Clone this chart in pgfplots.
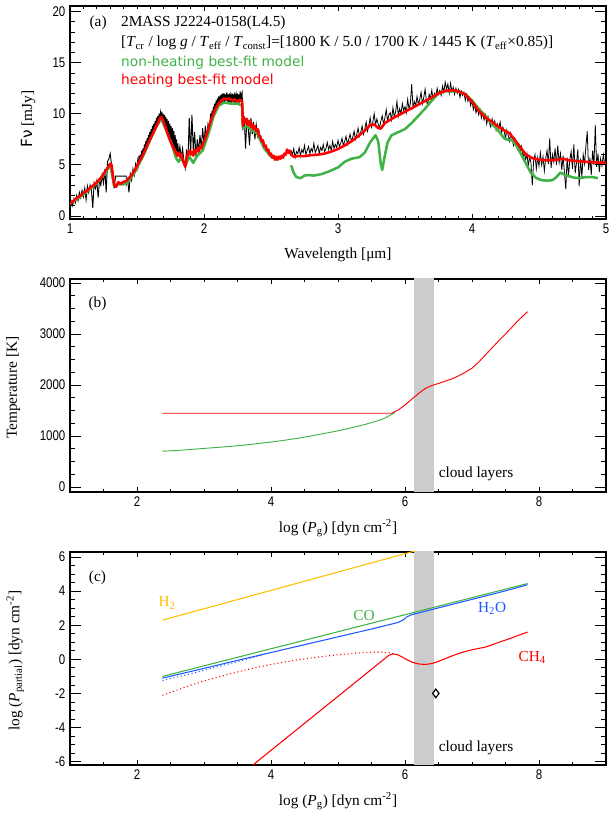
\documentclass[border=0pt]{standalone}
\usepackage{fontspec}
\setmainfont{Liberation Serif}
\newfontfamily\tickfont[FakeStretch=0.82]{Liberation Sans}
\newfontfamily\legfont{DejaVu Sans}
\usepackage{pgfplots}
\pgfplotsset{compat=1.18}

\definecolor{cgreen}{RGB}{64,178,72}
\definecolor{cblue}{RGB}{30,90,255}
\definecolor{cgold}{RGB}{255,190,0}
\newcommand{\lab}{\fontsize{11.5}{13}\selectfont}

\pgfplotsset{
  base/.style={scale only axis, width=402pt, height=159.75pt, anchor=south west,
    tick align=inside, axis line style={line width=0.8pt},
    every tick/.style={black, line width=0.6pt},
    major tick length=3.5pt, minor tick length=2pt},
  main/.style={base,
    ticklabel style={font=\tickfont\fontsize{10.5}{12}\selectfont},
    /pgf/number format/assume math mode=true,
    /pgf/number format/1000 sep={},
    label style={font=\lab},
    xlabel style={at={(axis description cs:0.5,-0.17)}, anchor=center}},
  yticks/.style={base, axis line style={draw=none}, xtick=\empty, yticklabels={},
    major tick length=8pt, minor tick length=4pt},
}

\begin{document}
\begin{tikzpicture}
\useasboundingbox (0,0) rectangle (456pt,610.5pt);

% ---------------- panel (a)
\begin{axis}[main, at={(52.5pt,446.25pt)},
  xmin=1, xmax=5, ymin=-0.3, ymax=20.55,
  xtick={1,2,3,4,5}, minor x tick num=9,
  ytick={0,5,10,15,20}, minor y tick num=4,
  xlabel={Wavelength [μm]},
  ylabel={{\legfont Fν} [mJy]},
  ylabel style={at={(axis description cs:-0.078,0.47)}, anchor=center}]
\addplot[black, line width=0.7pt] table {
x y
1.00 0.6
1.01 1.4
1.02 1.0
1.03 1.7
1.04 1.3
1.05 2.0
1.06 1.5
1.07 2.3
1.08 1.8
1.09 2.5
1.10 1.9
1.11 2.7
1.12 1.6
1.13 2.9
1.14 2.3
1.15 3.0
1.16 2.5
1.17 0.8
1.18 3.2
1.19 2.7
1.20 3.4
1.21 1.8
1.22 3.5
1.23 3.0
1.24 4.0
1.25 3.2
1.26 4.6
1.27 2.3
1.28 5.3
1.29 5.6
1.30 6.1
1.31 5.0
1.32 4.2
1.33 2.7
1.34 3.9
1.42 3.9
1.42 3.1
1.43 3.6
1.44 2.3
1.45 4.1
1.46 3.5
1.47 4.6
1.48 4.0
1.49 5.1
1.50 4.6
1.505 5.4
1.51 5.0
1.515 5.9
1.52 5.1
1.525 6.0
1.53 5.4
1.535 6.4
1.54 5.7
1.545 6.6
1.55 6.0
1.555 7.0
1.56 6.2
1.565 7.3
1.57 6.6
1.575 7.6
1.58 6.9
1.585 7.9
1.59 7.2
1.595 8.2
1.60 7.5
1.605 8.5
1.61 7.8
1.615 8.8
1.62 8.0
1.625 9.0
1.63 8.3
1.635 9.3
1.64 8.6
1.645 9.6
1.65 8.9
1.655 9.8
1.66 9.1
1.665 10.0
1.67 9.4
1.675 10.1
1.68 9.5
1.685 10.2
1.69 9.3
1.695 10.0
1.70 9.1
1.705 9.9
1.71 8.7
1.715 9.7
1.72 8.4
1.725 9.5
1.73 8.1
1.735 9.3
1.74 7.8
1.745 9.0
1.75 7.5
1.755 8.8
1.76 7.2
1.765 8.6
1.77 6.9
1.775 8.3
1.78 6.6
1.785 7.9
1.79 6.4
1.795 7.5
1.80 6.1
1.805 7.1
1.81 5.9
1.82 6.8
1.83 5.7
1.84 6.6
1.85 5.4
1.86 4.7
1.87 6.5
1.88 5.4
1.89 9.6
1.90 6.0
1.91 9.9
1.92 6.4
1.93 8.2
1.94 5.8
1.95 7.5
1.96 6.3
1.97 7.9
1.98 6.6
1.99 8.6
2.00 7.0
2.01 8.8
2.02 7.6
2.03 9.0
2.04 8.5
2.05 10.0
2.055 9.1
2.06 10.3
2.065 9.6
2.07 10.7
2.075 9.9
2.08 11.0
2.085 10.2
2.09 11.3
2.095 10.5
2.10 11.5
2.105 10.7
2.11 11.7
2.115 10.9
2.12 11.8
2.125 11.0
2.13 11.9
2.135 11.1
2.14 12.0
2.145 11.2
2.15 12.0
2.155 11.1
2.16 11.9
2.165 11.3
2.17 12.1
2.175 11.2
2.18 11.9
2.185 11.0
2.19 12.0
2.195 11.3
2.20 11.8
2.205 11.0
2.21 12.0
2.215 11.2
2.22 11.9
2.225 11.0
2.23 12.1
2.235 11.3
2.24 11.8
2.245 11.0
2.25 12.0
2.255 11.2
2.26 11.9
2.265 11.1
2.27 12.2
2.275 11.2
2.28 11.9
2.285 12.1
2.29 8.4
2.30 9.8
2.31 6.6
2.32 9.5
2.33 8.6
2.34 6.9
2.35 9.6
2.36 8.0
2.37 9.2
2.38 7.5
2.39 8.9
2.40 7.8
2.41 8.3
2.42 7.4
};
\addplot[black, line width=0.6pt] table {
x y
2.65 6.4
2.66 6.0
2.67 6.6
2.68 5.7
2.69 6.3
2.70 6.1
2.71 6.7
2.72 5.9
2.73 6.5
2.74 6.2
2.75 6.9
2.76 6.0
2.77 6.4
2.78 6.8
2.79 6.1
2.80 6.6
2.81 6.3
2.82 7.1
2.83 6.2
2.84 6.5
2.85 6.9
2.86 6.1
2.87 6.7
2.88 6.4
2.89 7.0
2.90 6.3
2.91 6.6
2.92 7.2
2.93 6.5
2.94 6.9
2.95 6.4
2.96 7.3
2.97 6.6
2.98 7.0
2.99 6.7
3.00 7.4
3.01 6.8
3.02 7.1
3.03 7.6
3.04 6.9
3.05 7.3
3.06 7.8
3.07 7.0
3.08 7.5
3.09 8.0
3.10 7.3
3.11 7.7
3.12 8.3
3.13 7.5
3.14 8.0
3.15 8.6
3.16 7.8
3.17 8.2
3.18 8.8
3.19 8.0
3.20 8.5
3.21 9.2
3.22 8.3
3.23 8.8
3.24 9.6
3.25 8.7
3.26 9.2
3.27 10.0
3.28 8.9
3.29 9.5
3.30 9.0
3.31 8.6
3.32 9.3
3.33 9.8
3.34 9.0
3.35 9.6
3.36 10.4
3.37 9.3
3.38 9.9
3.39 10.1
3.40 9.4
3.41 10.6
3.42 9.7
3.43 10.2
3.44 11.2
3.45 9.8
3.46 10.5
3.47 10.0
3.48 11.0
3.49 10.3
3.50 10.7
3.51 10.1
3.52 11.4
3.53 10.5
3.54 11.0
3.55 12.9
3.56 10.6
3.57 11.2
3.58 10.8
3.59 11.7
3.60 10.9
3.61 11.4
3.62 12.1
3.63 11.0
3.64 11.6
3.65 12.4
3.66 11.2
3.67 10.9
3.68 11.9
3.69 11.5
3.70 12.3
3.71 11.4
3.72 12.0
3.73 11.7
3.74 12.5
3.75 11.9
3.76 12.3
3.77 11.8
3.78 12.7
3.79 12.1
3.80 13.1
3.81 12.4
3.82 12.9
3.83 12.0
3.84 13.0
3.85 12.2
3.86 12.6
3.87 11.9
3.88 12.5
3.89 12.0
3.90 12.4
3.91 11.6
3.92 12.2
3.93 11.8
3.94 12.1
3.95 11.3
3.96 11.9
3.97 11.2
3.98 11.6
3.99 10.8
4.00 11.3
4.01 10.4
4.02 10.9
4.03 10.1
4.04 10.6
4.05 9.9
4.06 10.4
4.07 9.6
4.08 10.1
4.09 9.4
4.10 9.9
4.11 9.0
4.12 9.7
4.13 9.1
4.14 8.7
4.15 9.5
4.16 8.9
4.17 9.3
4.18 8.4
4.19 9.0
4.20 8.6
4.21 9.2
4.22 8.1
4.23 8.7
4.24 8.3
4.25 7.6
4.26 8.4
4.27 7.9
4.28 7.3
4.29 8.1
4.30 7.5
4.31 6.9
4.32 7.6
4.33 7.1
4.34 6.5
4.35 7.0
4.36 6.3
4.37 6.8
4.38 5.7
4.39 6.2
4.40 5.5
4.41 6.1
4.42 4.9
4.43 5.8
4.44 5.2
4.45 3.0
4.46 5.4
4.47 6.0
4.48 4.6
4.49 5.7
4.50 4.9
4.51 6.2
4.52 5.0
4.53 5.8
4.54 4.4
4.55 5.6
4.56 6.4
4.57 5.1
4.58 7.6
4.59 4.7
4.60 6.0
4.61 5.3
4.62 6.6
4.63 5.0
4.64 6.9
4.65 5.2
4.66 6.1
4.67 4.5
4.68 5.9
4.69 4.2
4.70 2.6
4.71 5.7
4.72 3.9
4.73 5.5
4.74 6.3
4.75 4.6
4.76 7.0
4.77 4.2
4.78 5.2
4.79 6.5
4.80 2.9
4.81 5.6
4.82 3.8
4.83 6.0
4.84 5.1
4.85 6.8
4.86 8.3
4.87 4.5
4.88 5.7
4.89 4.0
4.90 6.4
4.91 5.0
4.92 8.9
4.93 4.8
4.94 6.1
4.95 4.3
4.96 5.6
4.97 4.9
4.98 6.0
4.99 5.1
5.00 5.4
};
% non-heating model
\addplot[cgreen, line width=1.9pt, line join=round] table {
x y
1.00 1.2
1.10 2.1
1.20 3.2
1.25 4.0
1.30 5.0
1.33 2.9
1.36 3.1
1.40 3.1
1.43 3.3
1.48 4.2
1.55 6.0
1.60 7.5
1.65 8.9
1.68 9.6
1.72 8.3
1.76 7.0
1.79 5.7
1.81 5.3
1.83 5.7
1.86 4.9
1.89 5.8
1.92 5.2
1.95 5.9
1.99 6.4
2.03 7.9
2.07 9.7
2.11 10.8
2.15 11.1
2.20 11.0
2.25 11.0
2.285 10.8
2.29 8.6
2.32 8.8
2.36 8.4
2.40 8.0
2.45 6.6
2.50 5.8
2.55 5.5
};
\addplot[cgreen, line width=1.9pt, line join=round] table {
x y
2.65 4.95
2.67 4.2
2.69 3.8
2.72 3.7
2.75 3.95
2.78 4.0
2.82 3.95
2.88 4.1
2.94 4.4
3.00 4.75
3.05 5.3
3.10 5.6
3.16 5.75
3.20 6.2
3.24 7.2
3.28 7.9
3.30 7.3
3.32 5.0
3.33 4.5
3.345 5.6
3.37 7.2
3.40 7.9
3.45 8.2
3.50 8.5
3.55 9.1
3.60 9.8
3.65 10.5
3.70 11.3
3.75 12.0
3.80 12.2
3.90 12.2
3.95 11.9
4.00 11.3
4.05 10.5
4.10 9.8
4.15 9.0
4.20 8.3
4.24 7.6
4.27 7.45
4.30 7.4
4.33 6.9
4.36 6.2
4.40 5.2
4.44 4.2
4.48 3.7
4.52 3.5
4.56 3.45
4.60 3.5
4.63 3.8
4.66 4.25
4.68 4.1
4.72 3.9
4.76 3.75
4.80 3.7
4.85 3.8
4.90 3.8
4.94 3.7
};
% heating model
\addplot[red, line width=1.9pt, line join=round] table {
x y
1.00 1.25
1.03 1.5
1.05 1.75
1.08 2.0
1.10 2.25
1.13 2.5
1.15 2.75
1.18 3.05
1.20 3.3
1.23 3.7
1.25 4.1
1.27 4.5
1.29 4.9
1.30 5.1
1.31 5.0
1.32 4.0
1.33 3.0
1.345 2.85
1.36 3.3
1.38 3.15
1.40 3.35
1.42 3.4
1.44 3.7
1.46 4.0
1.48 4.4
1.50 4.9
1.53 5.6
1.56 6.4
1.59 7.3
1.62 8.1
1.65 8.9
1.67 9.5
1.68 9.7
1.69 9.5
1.71 8.8
1.73 8.0
1.75 7.3
1.77 6.7
1.79 6.2
1.80 5.9
1.81 6.2
1.82 5.8
1.83 6.1
1.84 5.5
1.85 5.2
1.86 4.8
1.87 5.6
1.88 6.1
1.89 6.4
1.90 6.0
1.91 6.3
1.92 5.9
1.93 6.5
1.94 6.2
1.95 6.6
1.96 6.3
1.97 6.8
1.98 6.6
1.99 7.0
2.01 7.6
2.03 8.4
2.05 9.3
2.07 10.0
2.09 10.6
2.11 11.0
2.13 11.3
2.15 11.5
2.17 11.4
2.19 11.5
2.21 11.3
2.23 11.4
2.25 11.2
2.27 11.4
2.285 11.2
2.29 8.8
2.30 9.6
2.31 9.1
2.32 9.5
2.33 8.9
2.34 9.3
2.35 8.7
2.36 9.0
2.37 8.5
2.38 8.8
2.39 8.3
2.40 8.5
2.41 7.9
2.42 7.8
2.43 7.3
2.44 7.4
2.45 6.8
2.46 6.9
2.47 6.4
2.48 6.5
2.49 6.0
2.50 6.1
2.51 5.7
2.52 5.9
2.53 5.5
2.54 5.8
2.55 5.5
2.56 5.8
2.57 5.6
2.58 5.9
2.59 5.7
2.60 6.1
2.61 6.0
2.62 6.5
2.63 6.2
2.64 6.4
2.65 6.0
2.67 5.8
2.70 5.85
2.75 5.85
2.80 5.95
2.85 6.0
2.90 6.1
2.95 6.3
3.00 6.55
3.05 6.9
3.10 7.3
3.15 7.8
3.20 8.35
3.24 8.9
3.27 8.95
3.30 8.6
3.32 8.55
3.35 9.1
3.40 9.5
3.45 9.85
3.50 10.2
3.55 10.55
3.60 10.9
3.65 11.25
3.70 11.6
3.75 12.0
3.80 12.25
3.85 12.3
3.90 12.2
3.95 11.9
4.00 11.2
4.05 10.3
4.10 9.65
4.15 9.2
4.20 8.7
4.25 8.3
4.28 8.1
4.31 7.6
4.35 6.9
4.40 6.05
4.45 5.65
4.50 5.5
4.55 5.45
4.60 5.45
4.65 5.55
4.68 5.6
4.72 5.45
4.80 5.35
4.90 5.25
5.00 5.2
};
\node[anchor=center, font=\lab] at (axis cs:1.21,18.9) {(a)};
\node[anchor=west, inner sep=0pt, font=\lab] at (axis cs:1.38,18.9) {2MASS J2224-0158(L4.5)};
\node[anchor=west, inner sep=0pt, font=\lab] at (axis cs:1.38,16.9)
  {[\textit{T}\textsubscript{cr} / log \textit{g} / \textit{T}\textsubscript{eff} / \textit{T}\textsubscript{const}]=[1800 K / 5.0 / 1700 K / 1445 K (\textit{T}\textsubscript{eff}×0.85)]};
\node[anchor=west, inner sep=0pt, text=cgreen, font=\legfont\fontsize{10.3}{12}\selectfont] at (axis cs:1.38,15.0) {non-heating best-fit model};
\node[anchor=west, inner sep=0pt, text=red, font=\legfont\fontsize{10.3}{12}\selectfont] at (axis cs:1.38,13.2) {heating best-fit model};
\end{axis}
\begin{axis}[yticks, at={(52.5pt,446.25pt)}, xmin=1, xmax=5, ymin=-0.3, ymax=20.55,
  ytick={0,5,10,15,20}, minor y tick num=4]
\end{axis}

% ---------------- panel (b)
\begin{axis}[main, at={(52.5pt,241.5pt)},
  xmin=1, xmax=9, ymin=-100, ymax=4080,
  xtick={2,4,6,8}, minor xtick={1.5,2.5,3,3.5,4.5,5,5.5,6.5,7,7.5,8.5},
  ytick={0,1000,2000,3000,4000}, minor y tick num=3,
  xlabel={log (\textit{P}\textsubscript{g}) [dyn cm\textsuperscript{-2}]},
  ylabel={Temperature [K]},
  ylabel style={at={(axis description cs:-0.106,0.49)}, anchor=center}]
\addplot[fill=gray!40, draw=none] coordinates {(6.13,-200) (6.43,-200) (6.43,5000) (6.13,5000)};
\addplot[cgreen, line width=0.7pt] coordinates {
(2.38,700) (2.6,715) (2.8,735) (3.0,755) (3.2,775) (3.4,795) (3.6,820) (3.8,850)
(4.0,880) (4.2,915) (4.4,955) (4.6,1000) (4.8,1050) (5.0,1100) (5.2,1160) (5.4,1225)
(5.6,1300) (5.7,1350) (5.8,1420) (5.85,1460)};
\addplot[red, line width=0.7pt] coordinates {
(2.38,1445) (5.8,1445) (5.9,1510) (6.0,1606) (6.1,1720) (6.2,1830) (6.3,1930) (6.4,1990)
(6.5,2030) (6.6,2075) (6.7,2120) (6.8,2180) (6.9,2250) (7.0,2330) (7.1,2450) (7.2,2590)
(7.3,2730) (7.4,2870) (7.5,3000) (7.6,3140) (7.7,3280) (7.83,3440)};
\node[font=\lab] at (axis cs:1.41,3600) {(b)};
\node[anchor=west, inner sep=0pt, font=\lab] at (axis cs:6.5,250) {cloud layers};
\end{axis}
\begin{axis}[yticks, at={(52.5pt,241.5pt)}, xmin=1, xmax=9, ymin=-100, ymax=4080,
  ytick={0,1000,2000,3000,4000}, minor y tick num=3]
\end{axis}

% ---------------- panel (c)
\begin{axis}[main, at={(52.5pt,36.75pt)},
  xmin=1, xmax=9, ymin=-6.2, ymax=6.3,
  xtick={2,4,6,8}, minor xtick={1.5,2.5,3,3.5,4.5,5,5.5,6.5,7,7.5,8.5},
  ytick={-6,-4,-2,0,2,4,6}, minor y tick num=3,
  xlabel={log (\textit{P}\textsubscript{g}) [dyn cm\textsuperscript{-2}]},
  ylabel={log (\textit{P}\textsubscript{partial}) [dyn cm\textsuperscript{-2}]},
  ylabel style={at={(axis description cs:-0.102,0.49)}, anchor=center}]
\addplot[fill=gray!40, draw=none] coordinates {(6.13,-7) (6.43,-7) (6.43,7) (6.13,7)};
\addplot[cgold, line width=0.8pt] coordinates {(2.38,2.30) (6.4,6.63)};
\addplot[cgreen, line width=0.8pt] coordinates {(2.38,-1.0) (3,-0.38) (4,0.62) (5,1.62) (6,2.62) (7,3.62) (7.83,4.45)};
\addplot[cblue, line width=0.8pt, dotted] coordinates {(2.38,-1.24) (2.8,-0.85) (3.2,-0.44) (3.6,-0.03) (3.9,0.28)};
\addplot[cblue, line width=0.8pt] coordinates {
(2.38,-1.10) (3,-0.53) (3.5,-0.06) (4,0.40) (4.5,0.86) (5,1.32) (5.5,1.78) (5.8,2.07)
(5.9,2.17) (5.97,2.30) (6.03,2.50) (6.1,2.62) (6.2,2.72) (6.5,3.02) (7,3.52) (7.5,4.02) (7.83,4.38)};
\addplot[red, line width=0.8pt, dotted] coordinates {
(2.38,-2.11) (2.6,-1.8) (2.8,-1.52) (3.0,-1.27) (3.2,-1.05) (3.4,-0.84) (3.6,-0.64)
(3.8,-0.46) (4.0,-0.3) (4.2,-0.16) (4.4,-0.03) (4.6,0.08) (4.8,0.18) (5.0,0.27)
(5.2,0.34) (5.4,0.40) (5.6,0.43) (5.75,0.40) (5.85,0.32)};
\addplot[red, line width=0.8pt] coordinates {
(3.66,-6.42) (5.76,0.24) (5.82,0.32) (5.9,0.26) (6.0,0.04) (6.1,-0.16) (6.2,-0.27)
(6.3,-0.30) (6.4,-0.25) (6.5,-0.12) (6.6,0.04) (6.7,0.2) (6.8,0.34) (6.9,0.46)
(7.0,0.56) (7.1,0.64) (7.2,0.72) (7.3,0.85) (7.4,1.0) (7.5,1.13) (7.6,1.27) (7.7,1.42) (7.83,1.6)};
\addplot[only marks, mark=diamond, mark size=3.2pt, mark options={line width=0.9pt, black}] coordinates {(6.46,-2.0)};
\node[font=\lab] at (axis cs:1.41,4.8) {(c)};
\node[font=\lab, text=cgold] at (axis cs:2.45,3.3) {H\textsubscript{2}};
\node[font=\lab, text=cgreen] at (axis cs:5.39,2.55) {CO};
\node[font=\lab, text=cblue] at (axis cs:7.3,3.0) {H\textsubscript{2}O};
\node[font=\lab, text=red] at (axis cs:7.9,0.13) {CH\textsubscript{4}};
\node[anchor=west, inner sep=0pt, font=\lab] at (axis cs:6.5,-5.2) {cloud layers};
\end{axis}
\begin{axis}[yticks, at={(52.5pt,36.75pt)}, xmin=1, xmax=9, ymin=-6.2, ymax=6.3,
  ytick={-6,-4,-2,0,2,4,6}, minor y tick num=3]
\end{axis}
\end{tikzpicture}
\end{document}
